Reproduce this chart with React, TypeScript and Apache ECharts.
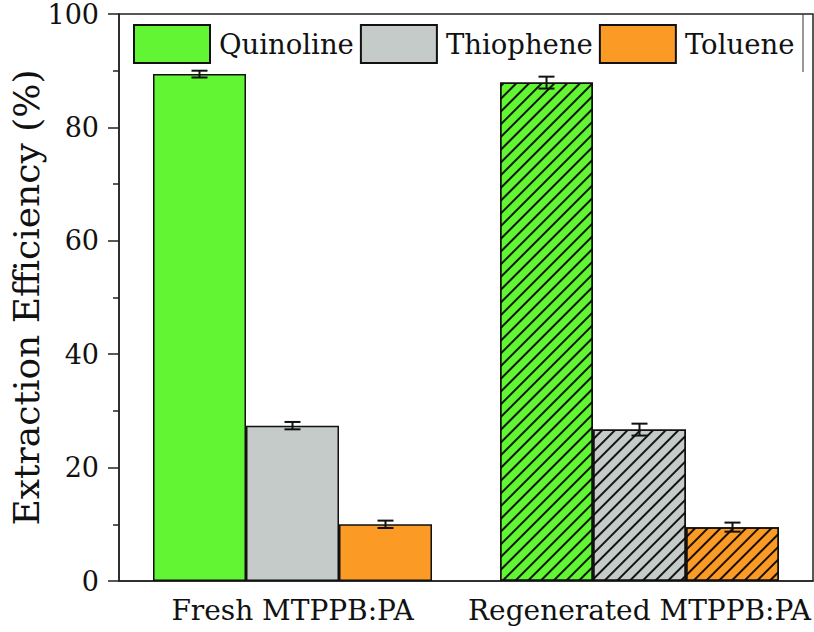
import React, { useEffect, useRef } from "react";
import * as echarts from "echarts";

const categories = ["Fresh MTPPB:PA", "Regenerated MTPPB:PA"];
const seriesNames = ["Quinoline", "Thiophene", "Toluene"];
const quinoline = [89.4, 87.9];
const thiophene = [27.4, 26.7];
const toluene = [10.0, 9.5];
const quinolineErr = [0.6, 1.05];
const thiopheneErr = [0.65, 1.05];
const tolueneErr = [0.65, 0.8];
const yTicks = [0, 20, 40, 60, 80, 100];

const colors = ["#62F534", "#C5CBC9", "#FC9A26"];
const FONT = "DejaVu Serif";

export default function App() {
  const ref = useRef<HTMLDivElement>(null);
  useEffect(() => {
    if (!ref.current) return;
    const chart = echarts.init(ref.current, undefined, { renderer: "svg" });
    const values = [quinoline, thiophene, toluene];
    const errs = [quinolineErr, thiopheneErr, tolueneErr];
    const decal = {
      symbol: "rect",
      symbolSize: 1,
      color: "rgba(0,0,0,0.9)",
      dashArrayX: [1, 0],
      dashArrayY: [1.3, 6.8],
      rotation: -Math.PI / 4,
    };
    const barSeries = values.map((vals, si) => ({
      name: seriesNames[si],
      type: "bar",
      barWidth: "26.8%",
      barGap: "0%",
      itemStyle: { color: colors[si], borderColor: "#111", borderWidth: 1.5 },
      data: vals.map((v, ci) =>
        ci === 1 ? { value: v, itemStyle: { decal } } : { value: v }
      ),
    }));
    const errData: number[][] = [];
    values.forEach((vals, si) =>
      vals.forEach((v, ci) => errData.push([ci, v, errs[si][ci], si]))
    );
    const option = {
      animation: false,
      grid: {
        left: 119,
        right: 1,
        top: 14,
        bottom: 51,
        show: true,
        borderColor: "#222",
        borderWidth: 1.5,
        outerBoundsMode: "none",
        containLabel: false,
      },
      legend: {
        data: seriesNames,
        left: 133,
        top: 24,
        itemWidth: 76,
        itemHeight: 38,
        itemGap: 6,
        icon: "rect",
        padding: 0,
        textStyle: {
          fontFamily: FONT,
          fontSize: 27.5,
          color: "#111",
          padding: [0, 0, 0, 4],
        },
      },
      xAxis: {
        type: "category",
        data: categories,
        axisLine: { lineStyle: { color: "#222", width: 1.5 } },
        axisTick: {
          alignWithLabel: true,
          length: 10,
          lineStyle: { color: "#222", width: 1.5 },
        },
        axisLabel: {
          interval: 0,
          hideOverlap: false,
          fontFamily: FONT,
          fontSize: 28,
          color: "#111",
          margin: 15,
        },
      },
      yAxis: {
        type: "value",
        min: yTicks[0],
        max: yTicks[yTicks.length - 1],
        interval: 20,
        name: "Extraction Efficiency (%)",
        nameLocation: "middle",
        nameGap: 74,
        nameMoveOverlap: false,
        nameTextStyle: { fontFamily: FONT, fontSize: 36, color: "#111", lineHeight: 38 },
        axisLine: { show: true, lineStyle: { color: "#222", width: 1.5 } },
        axisTick: { show: true, length: 11, lineStyle: { color: "#222", width: 1.5 } },
        minorTick: {
          show: true,
          splitNumber: 2,
          length: 6,
          lineStyle: { color: "#222", width: 1.5 },
        },
        splitLine: { show: false },
        axisLabel: {
          fontFamily: FONT,
          fontSize: 27,
          color: "#111",
          margin: 20,
        },
      },
      graphic: [
        {
          type: "line",
          shape: { x1: 803, y1: 14, x2: 803, y2: 72 },
          style: { stroke: "#333", lineWidth: 1 },
          silent: true,
        },
      ],
      series: [
        ...barSeries,
        {
          type: "custom",
          data: errData,
          encode: { x: 0, y: 1 },
          z: 5,
          renderItem: (params: any, api: any) => {
            const ci = api.value(0);
            const v = api.value(1);
            const e = api.value(2);
            const si = api.value(3);
            const band = api.size([1, 0])[0];
            const bw = band * 0.268;
            const c = api.coord([ci, v]);
            const x = c[0] + (si - 1) * bw;
            const top = api.coord([ci, v + e])[1];
            const bot = api.coord([ci, v - e])[1];
            const hw = 8;
            const st = { stroke: "#111", lineWidth: 2 };
            return {
              type: "group",
              children: [
                { type: "line", shape: { x1: x, y1: top, x2: x, y2: bot }, style: st },
                { type: "line", shape: { x1: x - hw, y1: top, x2: x + hw, y2: top }, style: st },
                { type: "line", shape: { x1: x - hw, y1: bot, x2: x + hw, y2: bot }, style: st },
              ],
            };
          },
        },
      ],
    };
    chart.setOption(option as any);
    return () => chart.dispose();
  }, []);
  return (
    <div
      ref={ref}
      style={{ position: "fixed", left: 0, top: 0, width: 814, height: 632, background: "#fff" }}
    />
  );
}
